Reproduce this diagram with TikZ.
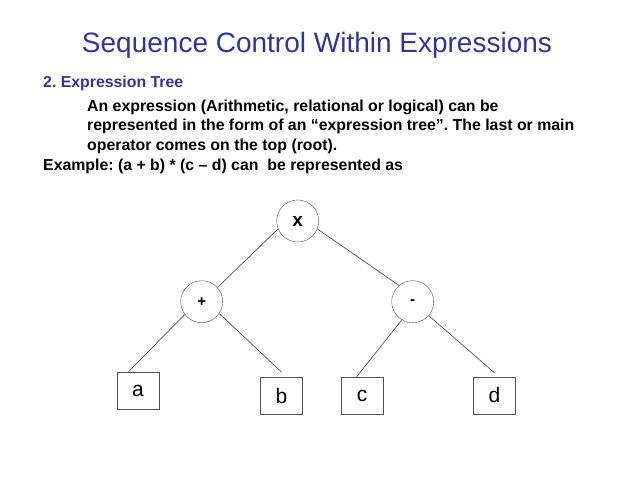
\documentclass[tikz,border=0pt]{standalone}
\usepackage{fontspec}
\setmainfont{Liberation Sans}
\usetikzlibrary{calc, positioning}
\usetikzlibrary{arrows.meta}
\definecolor{titleblue}{RGB}{51,51,153}
\definecolor{edgegray}{RGB}{80,80,80}
\frenchspacing

\begin{document}
\begin{tikzpicture}[x=1pt,y=1pt,
  opnode/.style={circle, draw=edgegray, minimum size=42pt, inner sep=0pt, font=\fontsize{15}{18}\selectfont\bfseries},
  leafnode/.style={rectangle, draw=edgegray, minimum width=42pt, minimum height=37pt, inner sep=0pt, font=\fontsize{21}{24}\selectfont},
  edge/.style={draw=edgegray, line width=0.7pt},
  bodytext/.style={anchor=base west, inner sep=0pt, font=\fontsize{15.85}{19}\selectfont\bfseries}]
\def\xText{87}
\def\xLeft{43}

\useasboundingbox (0,0) rectangle (638,478);

\node[anchor=base, inner sep=0pt, text=titleblue, font=\fontsize{28}{32}\selectfont] (title) at (317,425.7) {Sequence Control Within Expressions};
\node[bodytext, text=titleblue] (head) at (\xLeft,390) {2. Expression Tree};
\node[bodytext] (line1) at (\xText,366.5) {An expression (Arithmetic, relational or logical) can be};
\node[bodytext] (line2) at (\xText,347) {represented in the form of an “expression tree”. The last or main};
\node[bodytext] (line3) at (\xText,327.5) {operator comes on the top (root).};
\node[bodytext] (example) at (\xLeft,307) {Example: (a + b) * (c – d) can~ be represented as};

\node[opnode, font=\fontsize{19}{22}\selectfont\bfseries] (times) at (297.7,257) {x};
\node[opnode] (plus) at (201.7,176.3) {+};
\node[opnode] (minus) at (412.7,176.3) {-};

\node[leafnode] (a) at (138,87.5) {a};
\node[leafnode] (b) at (281.5,82.2) {b};
\node[leafnode] (c) at (362,82.5) {c};
\node[leafnode] (d) at (494.5,82.5) {d};

\draw[edge] (times.202) -- (plus.42);
\draw[edge] (times.338) -- (minus.130);
\draw[edge, -{Stealth[length=2.5pt, width=2pt]}] (a.117) -- (plus.217);
\draw[edge, -{Stealth[length=2.5pt, width=2pt]}] ($(b.north)+(0,5)$) -- (plus.326);
\draw[edge] (c.106) -- (minus.239);
\draw[edge] ($(d.north)+(0,4)$) -- (minus.319);
\end{tikzpicture}
\end{document}
